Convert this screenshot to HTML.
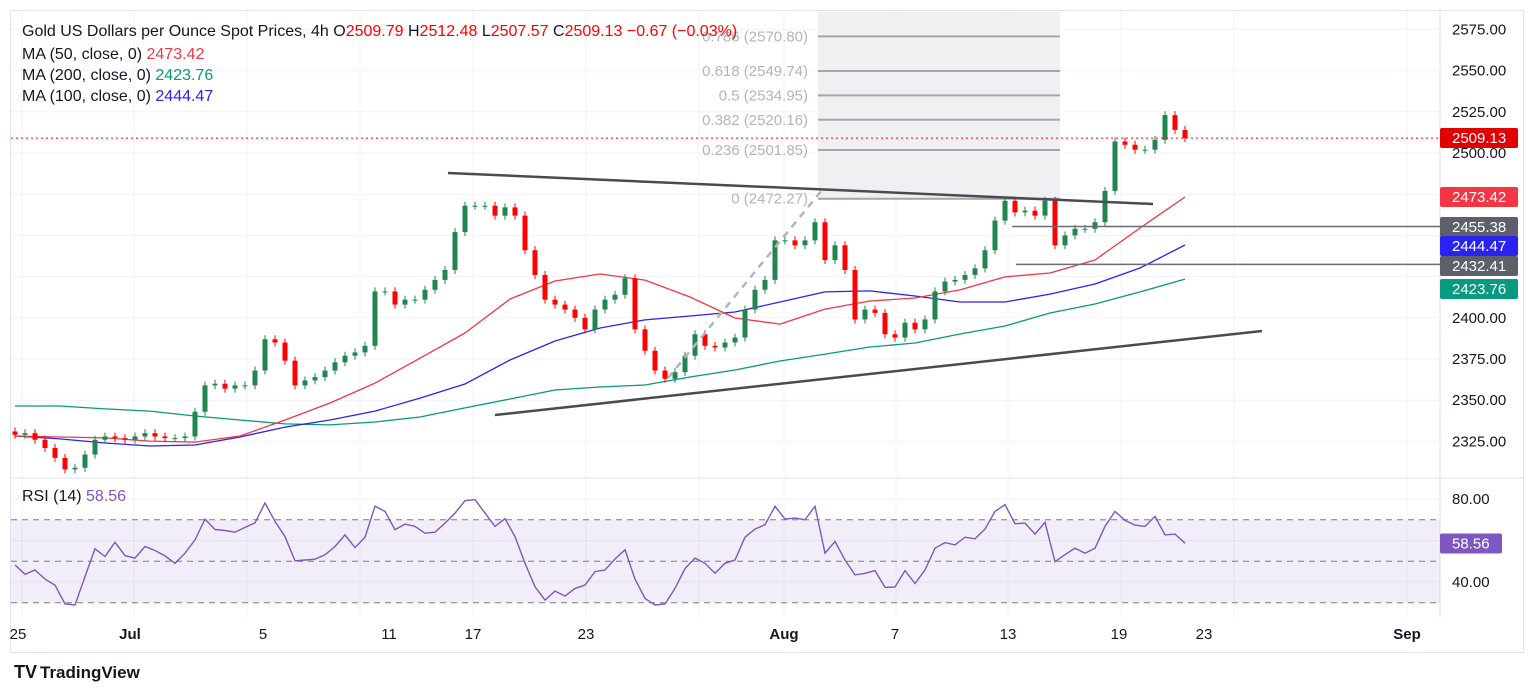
<!DOCTYPE html>
<html><head><meta charset="utf-8"><style>
body{margin:0;background:#fff;font-family:"Liberation Sans",sans-serif;}
svg text{font-family:"Liberation Sans",sans-serif;}
</style></head><body>
<svg id="c" width="1536" height="693" xmlns="http://www.w3.org/2000/svg">
<rect x="0" y="0" width="1536" height="693" fill="#fff"/>
<rect x="10.5" y="10.5" width="1513" height="642" fill="none" stroke="#e0e3eb"/>
<g id="grid"></g>
<g id="fib">
<rect x="818" y="12" width="242" height="188" fill="#f0f0f3"/>
</g>
<g id="ma"></g>
<g id="candles"></g>
<g id="draw"></g>
<g id="rsi"></g>
<g id="axis"></g>
<g font-size="16">
<text x="22" y="36" fill="#131722">Gold US Dollars per Ounce Spot Prices, 4h  O<tspan fill="#f00">2509.79</tspan>  H<tspan fill="#f00">2512.48</tspan>  L<tspan fill="#f00">2507.57</tspan>  C<tspan fill="#f00">2509.13  −0.67 (−0.03%)</tspan></text>
<text x="22" y="59" fill="#131722">MA (50, close, 0)  <tspan fill="#f23645">2473.42</tspan></text>
<text x="22" y="80" fill="#131722">MA (200, close, 0)  <tspan fill="#089981">2423.76</tspan></text>
<text x="22" y="101" fill="#131722">MA (100, close, 0)  <tspan fill="#2a22f0">2444.47</tspan></text>
<text x="22" y="501" fill="#131722">RSI (14)  <tspan fill="#7e57c2">58.56</tspan></text>
</g>
<g>
<text x="14" y="678" font-size="18" font-weight="bold" fill="#131722">TV</text>
<text x="40" y="678" font-size="17" font-weight="bold" fill="#131722">TradingView</text>
</g>
</svg>
<script>
const closes=[2329,2330,2326,2321,2315,2308,2309,2317,2326,2328,2327,2326,2328,2330,2328,2327,2327,2328,2343,2359,2360,2357,2359,2359,2368,2387,2385,2374,2359,2362,2364,2368,2373,2377,2379,2383,2416,2416,2408,2411,2411,2417,2423,2429,2452,2468,2468,2468,2462,2467,2462,2441,2426,2411,2408,2405,2400,2393,2405,2411,2414,2424,2393,2380,2368,2363,2367,2377,2390,2383,2382,2385,2388,2405,2417,2423,2447,2447,2444,2447,2458,2435,2444,2429,2399,2405,2403,2390,2388,2397,2393,2399,2416,2422,2423,2426,2430,2441,2459,2471,2464,2465,2462,2471,2444,2450,2454,2454,2458,2477,2507,2505,2502,2502,2508,2523,2514,2509];
const ma50=[2328.3,2327.7,2327.1,2325.2,2324.6,2328.3,2338,2348.3,2360.4,2375.5,2390.8,2411.4,2422.3,2426.6,2422.9,2412.6,2399.9,2396.2,2405.3,2410.2,2412,2416.9,2424.8,2427.2,2435.1,2454.5,2473.3];
const ma100=[2328.3,2326.5,2324,2322.2,2322.8,2327.7,2333.7,2338,2343.4,2351.3,2359.8,2374.4,2385.9,2393.8,2398.7,2401.1,2403.5,2409.6,2415.7,2416.3,2413.2,2409.6,2409.6,2414.4,2420.5,2430.2,2444.2];
const ma200=[2346.5,2346.5,2344.7,2343.4,2340.4,2338,2335.6,2335,2336.8,2339.8,2345.3,2350.7,2356.2,2358,2359.2,2364.1,2368.3,2373.8,2378,2382.3,2384.7,2390.2,2395,2402.9,2408.4,2415.7,2423.5];
const rsiVals=[48.2,43.7,45.8,41.4,38.5,29.4,28.9,42.6,56,52.3,59.2,52.7,51.5,57.1,55.2,52.6,49,53.9,60.3,70.3,65.3,64.8,64,66.3,68.5,78.1,69.2,61.9,50.2,50.6,51,53.1,57.1,62.7,56.6,61.6,76.5,74,65.2,67.9,66.8,63.5,64,68.4,73.2,79.2,79.7,73.2,66.8,70.5,61.9,49,37.7,31.3,35.6,33.2,36.9,38.5,45,45.8,51.1,
55.5,41.4,32.1,28.9,29.4,36.9,46.5,51.5,49,44.2,49,50.6,61.6,65.5,67.6,76.5,70.3,70.8,70,76.5,53.9,59.5,50.6,43.4,44.2,45.5,37.4,37.6,45.5,39.3,45.8,56.3,59,57.9,61.6,60.8,65.5,74,77.3,68.1,68.4,63.1,68.7,49.8,53.2,56.3,53.9,56.3,66.8,74,69.7,67.4,66.8,71.6,62.7,63.1,58.7];
const priceTicks=[2575,2550,2525,2500,2400,2375,2350,2325];
const rsiTicks=[80,40];
const dateLabels=["25","Jul","5","11","17","23","Aug","7","13","19","23","Sep"];
const datePos=[18,130,263,389,473,586,784,895,1008,1119,1204,1407];
const fibLevels=[0.786,0.618,0.5,0.382,0.236,0];
const fibPrices=[2570.80,2549.74,2534.95,2520.16,2501.85,2472.27];
const hLines=[2455.38,2432.41];

const NS="http://www.w3.org/2000/svg";
const py=p=>153+(2500-p)*1.648;
const ry=v=>582-(v-40)*2.075;
const bx=i=>15+i*10;
const mx=i=>15+i*45;
function mk(tag,attrs,parent){const e=document.createElementNS(NS,tag);for(const k in attrs)e.setAttribute(k,attrs[k]);document.getElementById(parent).appendChild(e);return e;}

[22,134,247,360,473,586,699,784,896,1008,1121,1234,1407].forEach(x=>{
 const l=mk('line',{x1:x,x2:x,y1:11,y2:617,stroke:'#f0f3fa'},'grid');
 
 
});
priceTicks.concat([2475,2450,2425]).forEach(p=>{
 const l=mk('line',{x1:11,x2:1440,y1:py(p),y2:py(p),stroke:'#f0f3fa'},'grid');
 
 
});
[80,60,40].forEach(v=>{
 const l=mk('line',{x1:11,x2:1440,y1:ry(v),y2:ry(v),stroke:'#f0f3fa'},'grid');
 
 
});
const sep=mk('line',{x1:11,x2:1523,y1:478,y2:478,stroke:'#e0e3eb'},'grid');


const ax=mk('line',{x1:1440,x2:1440,y1:11,y2:617,stroke:'#e0e3eb'},'grid');



fibPrices.forEach((p,i)=>{
 const l=mk('line',{x1:818,x2:1060,y1:py(p),y2:py(p),stroke:'#a5a5ad','stroke-width':2},'fib');
 
 
 const t=mk('text',{x:808,y:py(p)+5,'text-anchor':'end','font-size':15,fill:'#b2b5be'},'fib');
 t.textContent=fibLevels[i]+' ('+p.toFixed(2)+')';
 
 
});

function maLine(arr,col,name){
 const d=arr.map((p,i)=>(i?'L':'M')+mx(i)+' '+py(p).toFixed(1)).join(' ');
 const e=mk('path',{d:d,fill:'none',stroke:col,'stroke-width':1.3,'stroke-linejoin':'round'},'ma');
 
 
}
maLine(ma200,'#089981','ma200-line');
maLine(ma100,'#2a22f0','ma100-line');
maLine(ma50,'#f23645','ma50-line');

let prev=2331;
closes.forEach((c,i)=>{
 const o=prev;prev=c;
 const up=c>=o;const col=up?'#22844f':'#f00';
 const top=py(Math.max(o,c)),bot=py(Math.min(o,c));
 const w=mk('line',{x1:bx(i),x2:bx(i),y1:top-4,y2:bot+4,stroke:col,'stroke-width':1},'candles');
 
 
 const r=mk('rect',{x:bx(i)-2.5,y:top,width:5,height:Math.max(1,bot-top),fill:col},'candles');
 
 
});

const dl=[[448,173,1153,204,'#4a4a52',2.5,'','upper-trendline'],[495,415,1262,331,'#4a4a52',2.5,'','lower-trendline'],[668,378,822,190,'#b2b5be',2.5,'7 6','fib-trend-dashed']];
dl.forEach(a=>{
 const l=mk('line',{x1:a[0],y1:a[1],x2:a[2],y2:a[3],stroke:a[4],'stroke-width':a[5],'stroke-dasharray':a[6]},'draw');
 
 
});
hLines.forEach((p,i)=>{
 const l=mk('line',{x1:i?1016:1012,x2:1440,y1:py(p),y2:py(p),stroke:'#6a6d78','stroke-width':1.5},'draw');
 
 
});
const pl=mk('line',{x1:11,x2:1440,y1:py(closes[closes.length-1]),y2:py(closes[closes.length-1]),stroke:'#f00','stroke-dasharray':'2 3'},'draw');



const band=mk('rect',{x:11,y:ry(70),width:1429,height:ry(30)-ry(70),fill:'#7e57c2','fill-opacity':0.1},'rsi');


[70,50,30].forEach(v=>{
 const l=mk('line',{x1:11,x2:1440,y1:ry(v),y2:ry(v),stroke:'#787b86','stroke-dasharray':'6 5'},'rsi');
 
 
});
const rp=mk('path',{d:rsiVals.map((v,i)=>(i?'L':'M')+bx(i)+' '+ry(v).toFixed(1)).join(' '),fill:'none',stroke:'#7e57c2','stroke-width':1.4},'rsi');



priceTicks.forEach(p=>{
 const t=mk('text',{x:1452,y:py(p)+5,'font-size':15,fill:'#131722'},'axis');
 t.textContent=p.toFixed(2);
 
 
});
rsiTicks.forEach(v=>{
 const t=mk('text',{x:1452,y:ry(v)+5,'font-size':15,fill:'#131722'},'axis');
 t.textContent=v.toFixed(2);
 
 
});
dateLabels.forEach((d,i)=>{
 const t=mk('text',{x:datePos[i],y:639,'font-size':15,fill:'#131722','text-anchor':'middle','font-weight':(d=='Jul'||d=='Aug'||d=='Sep')?'bold':'normal'},'axis');
 t.textContent=d;
 
 
});
const tags=[[2509.13,138,'#e00000'],[2473.42,197,'#f23645'],[2455.38,227,'#5d606b'],[2444.47,246,'#2a22f0'],[2432.41,266,'#5d606b'],[2423.76,289,'#089981']];
tags.forEach(a=>{
 const r=mk('rect',{x:1440,y:a[1]-10,width:78,height:20,rx:2,fill:a[2]},'axis');
 
 
 const t=mk('text',{x:1452,y:a[1]+5,'font-size':15,fill:'#fff'},'axis');
 t.textContent=a[0].toFixed(2);
 
 
});
const rr=mk('rect',{x:1440,y:ry(58.56)-10,width:62,height:20,rx:2,fill:'#7e57c2'},'axis');


const rt=mk('text',{x:1452,y:ry(58.56)+5,'font-size':15,fill:'#fff'},'axis');
rt.textContent='58.56';


</script>
</body></html>
